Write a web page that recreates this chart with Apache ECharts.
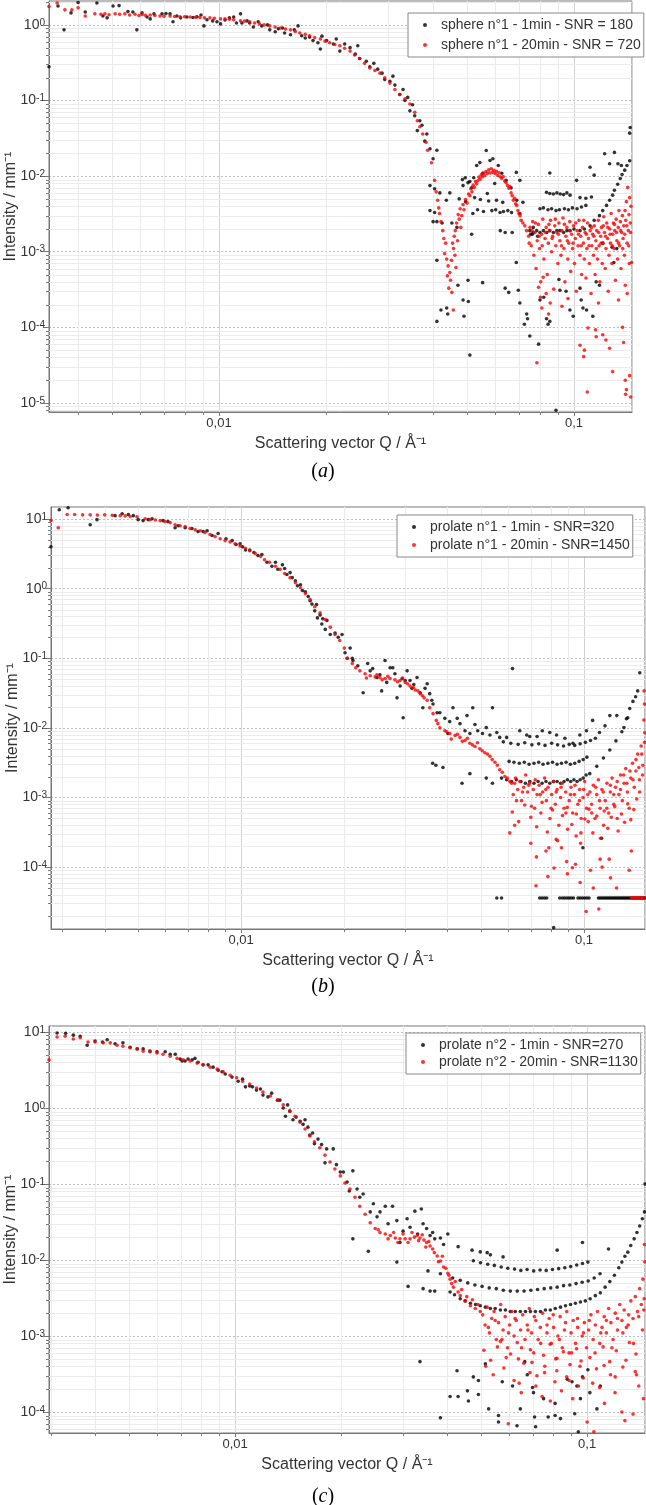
<!DOCTYPE html>
<html><head><meta charset="utf-8">
<script src="https://cdn.jsdelivr.net/npm/echarts@6.0.0/dist/echarts.min.js"></script>
<style>html,body{margin:0;padding:0;background:#fff}#c{width:646px;height:1505px}</style>
</head><body><div id="c"></div>
<script>
const FONT = 'Liberation Sans, Arial, sans-serif';

// axis ranges
const xRangeA = [0.00332, 0.1457], yRangeA = [7.6e-6, 2.07];
const xRangeB = [0.00279, 0.1507], yRangeB = [1.29e-5, 14.9];
const xRangeC = [0.00296, 0.146], yRangeC = [5.3e-5, 12.0];

// minor grid values
const xMinorA = [0.004,0.005,0.006,0.007,0.008,0.009,0.02,0.03,0.04,0.05,0.06,0.07,0.08,0.09];
const xMinorB = [0.003,0.004,0.005,0.006,0.007,0.008,0.009,0.02,0.03,0.04,0.05,0.06,0.07,0.08,0.09];
const xMinorC = [0.003,0.004,0.005,0.006,0.007,0.008,0.009,0.02,0.03,0.04,0.05,0.06,0.07,0.08,0.09];
const yMinorA = [8e-6,9e-6,2e-5,3e-5,4e-5,5e-5,6e-5,7e-5,8e-5,9e-5,2e-4,3e-4,4e-4,5e-4,6e-4,7e-4,8e-4,9e-4,2e-3,3e-3,4e-3,5e-3,6e-3,7e-3,8e-3,9e-3,0.02,0.03,0.04,0.05,0.06,0.07,0.08,0.09,0.2,0.3,0.4,0.5,0.6,0.7,0.8,0.9,2];
const yMinorB = [2e-5,3e-5,4e-5,5e-5,6e-5,7e-5,8e-5,9e-5,2e-4,3e-4,4e-4,5e-4,6e-4,7e-4,8e-4,9e-4,2e-3,3e-3,4e-3,5e-3,6e-3,7e-3,8e-3,9e-3,0.02,0.03,0.04,0.05,0.06,0.07,0.08,0.09,0.2,0.3,0.4,0.5,0.6,0.7,0.8,0.9,2,3,4,5,6,7,8,9];
const yMinorC = [6e-5,7e-5,8e-5,9e-5,2e-4,3e-4,4e-4,5e-4,6e-4,7e-4,8e-4,9e-4,2e-3,3e-3,4e-3,5e-3,6e-3,7e-3,8e-3,9e-3,0.02,0.03,0.04,0.05,0.06,0.07,0.08,0.09,0.2,0.3,0.4,0.5,0.6,0.7,0.8,0.9,2,3,4,5,6,7,8,9];

// (a) sphere n°1
const sphere1_1min = [
[0.00332,0.28],[0.00352,1.78],[0.00366,0.86],[0.00383,1.44],[0.00401,1.98],[0.0042,1.48],[0.00453,1.95],[0.00471,1.31],[0.00484,1.24],[0.00503,1.78],[0.00523,1.8],[0.00554,1.5],[0.00572,1.48],[0.00587,0.86],[0.00607,1.44],[0.00627,1.27],[0.0064,1.2],[0.00656,1.4],[0.00691,1.4],[0.00709,1.41],[0.00728,1.4],[0.00742,1.1],[0.00761,1.31],[0.0078,1.24],[0.00812,1.27],[0.00845,1.25],[0.00867,1.28],[0.0089,1.35],[0.00907,0.97],[0.00925,1.17],[0.0096,1.13],[0.00987,1.1],[0.0101,1.03],[0.0104,1.16],[0.0107,1.24],[0.011,1.27],[0.0112,1.06],[0.0115,1.4],[0.0116,1.06],[0.012,1.13],[0.0122,1.06],[0.0125,0.94],[0.0129,1.1],[0.0132,0.97],[0.0137,1.0],[0.0139,0.86],[0.0144,0.81],[0.0147,0.89],[0.0151,0.91],[0.0153,0.78],[0.0159,0.74],[0.0163,0.86],[0.0167,0.97],[0.0171,0.72],[0.0175,0.67],[0.018,0.69],[0.0184,0.62],[0.019,0.58],[0.0193,0.48],[0.0195,0.71],[0.0201,0.62],[0.021,0.56],[0.0214,0.65],[0.0219,0.45],[0.0226,0.56],[0.0234,0.5],[0.0242,0.41],[0.0246,0.53],[0.0249,0.36],[0.026,0.33],[0.0266,0.28],[0.0273,0.31],[0.028,0.26],[0.0288,0.23],[0.0293,0.19],[0.0303,0.18],[0.0309,0.21],[0.0313,0.16],[0.0323,0.12],[0.033,0.14],[0.0334,0.1],[0.034,0.11],[0.0345,0.073],[0.0351,0.088],[0.0356,0.063],[0.0362,0.04],[0.0368,0.054],[0.0373,0.047],[0.038,0.029],[0.0385,0.036],[0.0393,0.023],[0.0401,0.017],[0.0411,0.022],
[0.0393,0.0075],[0.0405,0.0068],[0.0419,0.006],[0.0405,0.0033],[0.0411,0.0025],[0.0425,0.0024],[0.0393,0.0035],[0.0401,0.0025],[0.0437,0.0048],[0.0447,0.006],[0.0453,0.0024],[0.0468,0.0021],[0.0487,0.0075],[0.0494,0.0095],[0.0503,0.0082],[0.0515,0.007],[0.0519,0.0032],[0.0532,0.0138],[0.0543,0.0151],[0.0553,0.0109],[0.0566,0.0218],[0.057,0.0059],[0.058,0.0161],[0.0587,0.0035],[0.0591,0.017],[0.0598,0.008],[0.0605,0.0048],[0.0612,0.0138],[0.0619,0.0033],[0.0626,0.0109],[0.063,0.0045],[0.0644,0.0088],[0.0651,0.0035],[0.0665,0.007],[0.0688,0.0112],[0.069,0.0048],[0.0704,0.0088],[0.0704,0.0032],[0.0718,0.0045],[0.064,0.0018],[0.0763,0.0017],
[0.0485,0.009],[0.0509,0.0085],[0.0522,0.0095],[0.0475,0.005],[0.0495,0.0046],[0.0525,0.0052],[0.0545,0.0049],[0.0575,0.0047],[0.0535,0.0036],[0.0556,0.0034],[0.0602,0.0036],[0.0633,0.0034],[0.0667,0.0033],[0.062,0.0019],[0.067,0.0018],[0.0768,0.0021],[0.0755,0.0017],[0.079,0.0016],
[0.0837,0.0061],[0.0855,0.0059],[0.0875,0.0058],[0.0895,0.006],[0.0915,0.0058],[0.0935,0.0057],[0.0955,0.006],[0.0975,0.0056],[0.104,0.0052],[0.108,0.0051],[0.112,0.0053],[0.0855,0.011],[0.1017,0.0088],[0.111,0.0131],[0.114,0.0103],[0.122,0.0198],[0.126,0.0146],[0.13,0.0206],[0.133,0.0146],[0.136,0.0138],[0.144,0.044],[0.1435,0.037],
[0.0802,0.0037],[0.082,0.0038],[0.0845,0.0036],[0.0865,0.0037],[0.089,0.0035],[0.091,0.0036],[0.094,0.0037],[0.0965,0.0036],[0.099,0.0038],[0.102,0.0037],[0.105,0.0039],[0.108,0.0041],
[0.0751,0.0019],[0.0768,0.0018],[0.0785,0.0019],[0.0802,0.0018],[0.082,0.0019],[0.0838,0.0018],[0.0855,0.0019],[0.0875,0.0018],[0.0895,0.0019],[0.0913,0.0019],[0.0935,0.0018],[0.0955,0.0019],[0.0974,0.0019],[0.1,0.002],[0.104,0.0019],[0.107,0.002],[0.111,0.0022],[0.114,0.0026],[0.118,0.003],[0.1205,0.0035],[0.1235,0.0041],[0.126,0.0048],[0.1285,0.0056],[0.13,0.0065],[0.1328,0.0078],[0.135,0.0093],[0.1366,0.0105],[0.139,0.012],[0.141,0.0138],[0.1435,0.016],
[0.0411,7.7e-4],[0.0411,1.2e-4],[0.0422,1.7e-4],[0.0438,1.8e-4],[0.0441,1.5e-4],[0.0471,3.6e-4],[0.0487,2.3e-4],[0.049,1.4e-4],[0.0503,4.2e-4],[0.0504,2.2e-4],[0.0509,4.3e-5],[0.0515,1.7e-3],[0.0553,3.9e-4],[0.064,3.3e-4],[0.0655,2.9e-4],[0.0688,7.2e-4],[0.0697,3.1e-4],[0.0704,2.1e-4],[0.0725,1.1e-4],[0.0736,1.5e-4],[0.074,1.3e-4],[0.0751,7.7e-5],[0.0795,6e-5],[0.0802,2.3e-4],[0.0822,2.5e-4],[0.0837,1.3e-4],[0.0845,1.1e-4],[0.0855,1.2e-4],[0.0907,4.3e-4],[0.0913,3.1e-4],[0.095,3e-4],[0.0974,1.7e-4],[0.0995,1.4e-4],[0.104,3.3e-4],[0.1048,2.3e-4],[0.106,1.8e-4],[0.1085,1.7e-4],[0.113,1.4e-4],[0.1155,4e-4],[0.118,3.6e-4],[0.1205,1.3e-3],[0.128,1.15e-3],[0.1295,7.2e-4],[0.132,1.1e-3],[0.089,8e-6]
];
const sphere1_20min = [
[0.00332,1.75],[0.0035,1.95],[0.00368,1.58],[0.00385,1.58],[0.00401,1.68],[0.0042,1.31],[0.00447,1.4],[0.00465,1.38],[0.00477,1.4],[0.0049,1.36],[0.0051,1.4],[0.00525,1.38],[0.00543,1.4],[0.0056,1.35],[0.0058,1.38],[0.00595,1.33],[0.00607,1.37],[0.0062,1.34],[0.0064,1.35],[0.0066,1.33],[0.00682,1.31],[0.007,1.3],[0.00728,1.31],[0.0075,1.29],[0.00777,1.28],[0.008,1.28],[0.0083,1.27],[0.0086,1.26],[0.00884,1.25],[0.0091,1.24],[0.00943,1.24],[0.0097,1.22],[0.0101,1.2],[0.0104,1.2],[0.0107,1.19],[0.011,1.17],[0.0115,1.13],[0.0118,1.12],[0.0122,1.1],[0.0126,1.06],[0.013,1.03],[0.0134,1.0],[0.0139,0.97],[0.0144,0.94],[0.0149,0.91],[0.0154,0.88],[0.0159,0.86],[0.0164,0.82],[0.0169,0.78],[0.0175,0.75],[0.018,0.72],[0.0186,0.68],[0.0193,0.65],[0.0199,0.61],[0.0205,0.58],[0.0212,0.55],[0.0219,0.53],[0.0226,0.49],[0.0234,0.45],[0.0241,0.4],[0.0249,0.36],[0.0257,0.31],[0.0266,0.27],[0.0275,0.25],[0.0284,0.23],[0.0293,0.2],[0.0303,0.17],[0.0313,0.14],[0.0323,0.12],[0.0334,0.105],[0.0345,0.09],[0.0356,0.07],[0.0362,0.054],[0.0368,0.045],[0.0375,0.036],[0.0383,0.028],[0.0387,0.022],[0.0397,0.015],
[0.0405,0.0088],[0.0409,0.0062],[0.0413,0.0048],[0.0416,0.0038],[0.0418,0.0032],[0.0422,0.0025],[0.0427,0.0019],[0.043,0.0015],[0.0435,0.0013],[0.0432,0.00095],[0.0438,0.0008],[0.0442,0.00065],[0.044,0.00048],[0.0447,0.00053],[0.0444,0.00033],[0.0449,0.00042],[0.0453,0.00029],[0.0452,0.00077],[0.0455,0.0013],[0.0457,0.00017],[0.0458,0.0011],[0.046,0.0016],[0.0462,0.0009],[0.0465,0.00062],[0.0463,0.0019],[0.0467,0.0024],[0.047,0.0014],[0.0472,0.0031],[0.0475,0.0027],[0.0478,0.0037],[0.048,0.0021],
[0.0483,0.003],[0.0487,0.0042],[0.049,0.0036],[0.0495,0.0049],[0.05,0.0044],[0.0505,0.0058],[0.0509,0.0055],[0.0512,0.0068],[0.0516,0.0062],[0.052,0.0076],[0.0524,0.0071],[0.0528,0.0085],[0.0532,0.0079],[0.0536,0.0087],[0.054,0.0097],[0.0544,0.0091],[0.0548,0.0104],[0.0552,0.0098],[0.0556,0.011],[0.056,0.0101],[0.0565,0.0115],[0.057,0.0108],[0.0575,0.0121],[0.058,0.011],[0.0585,0.0125],[0.059,0.0112],[0.0595,0.0119],[0.06,0.0108],[0.0605,0.0116],[0.061,0.0102],[0.0615,0.0111],[0.062,0.0098],[0.0626,0.0093],[0.0632,0.0099],[0.0638,0.0086],[0.0644,0.0082],[0.065,0.0075],[0.0656,0.0069],[0.066,0.0073],[0.0665,0.006],[0.067,0.0055],[0.0675,0.0048],[0.068,0.0051],[0.0685,0.0043],[0.069,0.0041],[0.0695,0.0035],[0.07,0.0032],[0.0705,0.003],[0.071,0.0026],[0.0718,0.0024],[0.0727,0.0022],[0.0735,0.0019],
[0.0745,0.0016],[0.0752,0.0021],[0.0758,0.0012],[0.0765,0.0025],[0.0771,0.0009],[0.0776,0.0018],[0.0782,0.0006],[0.0788,0.0014],[0.0794,0.0023],[0.08,0.0011],[0.0806,0.0004],[0.0811,0.0017],[0.0817,0.0027],[0.0823,0.0008],[0.0829,0.0015],[0.0835,0.0021],[0.0841,0.0005],[0.0847,0.0013],[0.0853,0.0019],[0.0859,0.0026],[0.0865,0.001],[0.0871,0.0016],[0.0877,0.00032],[0.0883,0.0022],[0.0889,0.0012],[0.0895,0.0018],[0.0901,0.0007],[0.0907,0.0024],[0.0913,0.0014],[0.0919,0.0009],[0.0925,0.0019],[0.0931,0.0028],[0.0937,0.0011],[0.0943,0.0004],[0.0949,0.0016],[0.0955,0.0021],[0.0961,0.0008],[0.0967,0.0013],[0.0973,0.0025],[0.0979,0.00055],[0.0985,0.0017],[0.0991,0.0011],[0.0997,0.0022],[0.1003,0.0007],[0.1009,0.0015],[0.1015,0.0003],[0.1021,0.0019],[0.1027,0.0012],[0.1033,0.0026],[0.1039,0.0009],[0.1045,0.0016],[0.1051,0.0005],[0.1057,0.0021],[0.1063,0.0013],[0.1069,0.0008],[0.1075,0.0018],[0.1081,0.00045],[0.1087,0.0011],[0.1093,0.0024],[0.1099,0.0015],[0.1105,0.0007],[0.1111,0.0019],[0.1117,0.00028],[0.1123,0.0012],[0.1129,0.0017],[0.1135,0.0009],[0.1141,0.0022],[0.1147,0.0005],[0.1153,0.0014],[0.1159,0.0019],[0.1165,0.0008],[0.1171,0.0026],[0.1177,0.0012],[0.1183,0.0004],[0.1189,0.0016],[0.1195,0.0021],[0.1201,0.0007],[0.1207,0.0013],[0.1213,0.0029],[0.1219,0.0018],[0.1225,0.0006],[0.1231,0.0011],[0.1237,0.0024],[0.1243,0.0015],[0.1249,0.0003],[0.1255,0.0009],[0.1261,0.002],[0.1267,0.0013],[0.1273,0.0032],[0.1279,0.0007],[0.1285,0.0017],[0.1291,0.0024],[0.1297,0.0011],[0.1303,0.0019],[0.1309,0.00042],[0.1315,0.0027],[0.1321,0.0014],[0.1327,0.0008],[0.1333,0.0021],[0.1339,0.0035],[0.1345,0.0012],[0.1351,0.0025],[0.1357,0.0006],[0.1363,0.0018],[0.1369,0.003],[0.1375,0.0015],[0.1381,0.0022],[0.1387,0.0009],[0.1393,0.0035],[0.1399,0.0026],[0.1405,0.0046],[0.1411,0.0013],[0.1417,0.0071],[0.1423,0.0019],[0.1429,0.0031],[0.1435,0.0052],[0.1441,0.0024],[0.1447,0.004],[0.1453,0.00072],
[0.0748,0.0013],[0.0762,0.0019],[0.0779,0.0024],[0.0797,0.0016],[0.0814,0.0012],[0.0832,0.0018],[0.085,0.0023],[0.0868,0.0015],[0.0886,0.0027],[0.0904,0.0017],[0.0922,0.0012],[0.094,0.0023],[0.0958,0.0014],[0.0976,0.0019],[0.0994,0.0013],[0.1012,0.0024],[0.103,0.0017],[0.1048,0.0012],[0.1066,0.0026],[0.1084,0.0017],[0.1102,0.0012],[0.112,0.0021],[0.1138,0.0016],[0.1156,0.0011],[0.1174,0.0018],[0.1192,0.0013],[0.121,0.0022],[0.1228,0.0016],[0.1246,0.0021],[0.1264,0.0017],[0.1282,0.0012],[0.13,0.0023],[0.1318,0.0018],[0.1336,0.0013],[0.1354,0.0019],[0.1372,0.0011],[0.139,0.0017],[0.1408,0.0022],[0.1426,0.0012],[0.1444,0.0018],
[0.0795,0.00034],[0.0805,0.00025],[0.0812,0.00018],[0.0819,0.00046],[0.0835,0.00028],[0.0848,0.00015],[0.0857,0.00021],[0.0786,3.4e-5],[0.104,5.8e-5],[0.107,5e-5],[0.1065,4.1e-5],[0.109,1.4e-5],[0.1095,9.8e-5],[0.115,9.3e-5],[0.1155,7.5e-5],[0.1205,8e-5],[0.123,6.8e-5],[0.126,5.3e-5],[0.1285,2.6e-5],[0.137,1e-4],[0.138,6.3e-5],[0.1395,2e-5],[0.1405,1.5e-5],[0.1398,1.3e-5],[0.1435,2.3e-5],[0.1445,1.2e-5],[0.1412,2.8e-4],[0.1395,3.6e-4],[0.1335,2.3e-4],[0.1172,2.1e-4],[0.0962,2.4e-4],[0.0925,1.9e-4],[0.1432,7e-4]
];

// (b) prolate n°1
const prolate1_1min = [
[0.00279,4.0],[0.00295,13.6],[0.00313,14.5],[0.00363,8.3],[0.0038,9.8],[0.00429,11.2],[0.0045,11.9],[0.00469,11.6],[0.00485,11.2],[0.00501,9.8],[0.00518,9.5],[0.00536,9.8],[0.0055,10.1],[0.00592,9.5],[0.00612,9.2],[0.00642,7.5],[0.00655,8.0],[0.00687,7.5],[0.00719,7.3],[0.00749,6.6],[0.00775,6.6],[0.00796,6.8],[0.00823,5.8],[0.00857,6.2],[0.00904,5.2],[0.00942,4.9],[0.00967,4.3],[0.00993,4.4],[0.0101,4.0],[0.0103,3.6],[0.0106,3.6],[0.0109,3.3],[0.0112,3.0],[0.0115,3.1],[0.0119,2.4],[0.0123,2.1],[0.0126,2.4],[0.0128,1.9],[0.0132,2.2],[0.0134,1.95],[0.0136,1.6],[0.0139,1.7],[0.0141,1.44],[0.0144,1.3],[0.0146,1.1],[0.0149,1.14],[0.0151,0.94],[0.0154,0.9],[0.0157,0.77],[0.0159,0.67],[0.0161,0.6],[0.0164,0.48],[0.0166,0.59],[0.0167,0.38],[0.017,0.42],[0.0172,0.31],[0.0173,0.37],[0.0176,0.26],[0.0178,0.35],[0.0182,0.22],[0.0188,0.23],[0.0192,0.2],[0.0197,0.22],[0.0201,0.12],[0.0204,0.1],[0.0208,0.14],[0.0211,0.1],[0.0212,0.093],[0.0219,0.078],[0.0227,0.032],[0.0234,0.084],[0.0238,0.066],[0.0242,0.071],[0.0249,0.053],[0.0254,0.058],[0.0257,0.034],[0.0263,0.093],[0.0266,0.045],[0.0272,0.073],[0.0277,0.073],[0.0281,0.06],[0.0285,0.027],[0.0291,0.04],[0.0295,0.051],[0.0297,0.014],[0.0301,0.048],[0.0305,0.066],[0.0311,0.048],[0.0315,0.037],[0.0319,0.042],[0.0326,0.053],[0.0333,0.032],[0.0339,0.0195],[0.0344,0.037],[0.0349,0.043],[0.0355,0.031],[0.036,0.025],[0.0363,0.022],[0.0373,0.0165],[0.038,0.0165],[0.0393,0.0137],[0.0401,0.0083],[0.0406,0.0123],[0.0415,0.0195],[0.0427,0.0137],[0.0435,0.0115],[0.045,0.0091],[0.0456,0.015],[0.0465,0.0083],[0.0474,0.0195],[0.0481,0.0112],[0.049,0.0091],[0.0506,0.0083],[0.0519,0.0101],[0.0532,0.0079],[0.0541,0.0195],[0.0557,0.0086],[0.0568,0.0073],[0.0595,0.0073],[0.0619,0.071],[0.065,0.0091],[0.0681,0.0079],[0.0695,0.0075],[0.073,0.0075],[0.0756,0.0091],[0.0795,0.0086],[0.0832,0.0079],[0.088,0.0071],[0.0929,0.006],[0.0973,0.0079],[0.1017,0.0091],[0.106,0.0128],[0.111,0.0086],[0.1152,0.0107],[0.119,0.015],[0.1247,0.015],[0.1308,0.0101],[0.1342,0.014],[0.1455,0.062],
[0.0575,0.0019],[0.0595,0.0018],[0.0615,0.0017],[0.0635,0.0018],[0.0655,0.0017],[0.0675,0.0016],[0.0695,0.0017],[0.0715,0.0016],[0.0735,0.0017],[0.0755,0.0016],[0.0775,0.0017],[0.0795,0.0016],[0.0815,0.0017],[0.0835,0.0017],[0.0855,0.0016],[0.0875,0.0017],[0.0895,0.0018],[0.0915,0.0017],[0.0935,0.0018],[0.0955,0.0017],[0.0975,0.0018],[0.0995,0.0019],[0.1015,0.0021],[0.104,0.0022],[0.109,0.0028],[0.114,0.0037],[0.119,0.0048],[0.124,0.0065],[0.129,0.0088],[0.133,0.0135],[0.136,0.019],[0.139,0.024],[0.1415,0.028],[0.1435,0.034],
[0.0605,0.0033],[0.0625,0.0032],[0.0648,0.0031],[0.067,0.0032],[0.0692,0.003],[0.0715,0.0031],[0.0738,0.0032],[0.076,0.003],[0.0785,0.0031],[0.081,0.0032],[0.0835,0.003],[0.086,0.0031],[0.0887,0.0032],[0.0913,0.003],[0.094,0.0031],[0.0968,0.0033],[0.0995,0.0035],[0.102,0.0038],
[0.0582,0.0063],[0.0612,0.006],[0.0643,0.0058],[0.0672,0.0061],[0.0705,0.0057],[0.0738,0.0059],[0.077,0.0056],[0.0805,0.006],[0.0838,0.0057],[0.0872,0.0055],[0.0906,0.0058],[0.094,0.0056],[0.0975,0.0059],[0.101,0.0062],[0.1045,0.0066],[0.108,0.0071],
[0.0362,0.0031],[0.037,0.0029],[0.0388,0.0027],[0.0441,0.0016],[0.0465,0.0022],[0.0519,0.0019],[0.0541,0.0016],[0.0993,1.9e-4],[0.1126,2.6e-4],[0.0816,1.35e-5],
[0.0557,3.6e-5],[0.0575,3.6e-5],[0.0743,3.6e-5],[0.0755,3.6e-5],[0.0767,3.6e-5],[0.0779,3.6e-5],[0.085,3.6e-5],[0.0865,3.6e-5],[0.0878,3.6e-5],[0.0892,3.6e-5],[0.0905,3.6e-5],[0.0918,3.6e-5],[0.0932,3.6e-5],[0.0961,3.6e-5],[0.0975,3.6e-5],[0.099,3.6e-5],[0.1005,3.6e-5],[0.102,3.6e-5],[0.1035,3.6e-5],[0.1102,3.6e-5],[0.1115,3.6e-5],[0.1128,3.6e-5],[0.1141,3.6e-5],[0.1154,3.6e-5],[0.1167,3.6e-5],[0.118,3.6e-5],[0.1193,3.6e-5],[0.1206,3.6e-5],[0.1219,3.6e-5],[0.1232,3.6e-5],[0.1245,3.6e-5],[0.1258,3.6e-5],[0.1271,3.6e-5],[0.1284,3.6e-5],[0.1297,3.6e-5],[0.131,3.6e-5],[0.1323,3.6e-5],[0.1336,3.6e-5],[0.1349,3.6e-5],[0.1362,3.6e-5],[0.1375,3.6e-5],[0.1388,3.6e-5],[0.1401,3.6e-5],[0.1414,3.6e-5],[0.1427,3.6e-5],[0.144,3.6e-5],[0.1453,3.6e-5],[0.1466,3.6e-5],[0.1479,3.6e-5],[0.1492,3.6e-5],[0.1505,3.6e-5]
];
const prolate1_20min = [
[0.00279,9.5],[0.00293,7.5],[0.00311,11.6],[0.00327,11.6],[0.00345,11.5],[0.00363,11.5],[0.00381,11.4],[0.004,11.5],[0.00421,11.3],[0.00444,11.2],[0.00459,11.1],[0.00475,10.9],[0.00497,10.8],[0.00525,10.1],[0.00543,9.8],[0.00562,9.7],[0.00581,9.5],[0.006,9.2],[0.00621,8.9],[0.00642,8.3],[0.00664,8.0],[0.00687,7.8],[0.0071,7.3],[0.00735,7.0],[0.0076,6.8],[0.00785,6.4],[0.00812,6.0],[0.0084,5.6],[0.00869,5.2],[0.00898,4.9],[0.00929,4.7],[0.0096,4.4],[0.00993,4.1],[0.0103,3.8],[0.0106,3.5],[0.011,3.2],[0.0114,2.9],[0.0117,2.6],[0.0121,2.4],[0.0126,2.1],[0.013,1.9],[0.0134,1.65],[0.0139,1.44],[0.0144,1.22],[0.0149,1.03],[0.0154,0.85],[0.0159,0.7],[0.0164,0.55],[0.017,0.45],[0.0176,0.36],[0.0182,0.28],[0.0188,0.22],[0.0194,0.18],[0.02,0.14],[0.0204,0.1],[0.0211,0.084],[0.0216,0.073],[0.0222,0.066],[0.023,0.06],[0.0238,0.056],[0.0246,0.054],[0.0254,0.053],[0.0263,0.051],[0.0272,0.051],[0.0281,0.049],[0.0291,0.048],[0.0301,0.045],[0.0311,0.04],[0.0322,0.035],[0.0333,0.031],[0.0342,0.027],[0.0349,0.025],[0.0355,0.0195],[0.0363,0.016],[0.0371,0.0128],[0.038,0.01],[0.0393,0.0091],[0.0406,0.0083],[0.0421,0.0078],[0.0435,0.0073],[0.045,0.0066],[0.0465,0.006],[0.0481,0.0054],[0.0497,0.005],[0.0514,0.0044],[0.0532,0.0039],[0.055,0.0032],[0.0568,0.0025],[0.0588,0.002],[0.0608,0.0017],[0.0628,0.0016],
[0.0232,0.052],[0.0249,0.058],[0.0258,0.049],[0.0268,0.055],[0.0286,0.046],[0.0296,0.052],[0.0306,0.043],[0.0318,0.038],[0.0328,0.034],[0.0338,0.029],[0.0375,0.0115],[0.0398,0.0088],[0.041,0.0069],[0.0428,0.0081],[0.0442,0.0064],[0.0457,0.0071],[0.0473,0.0057],[0.0489,0.0061],[0.0505,0.0047],[0.0523,0.0042],[0.054,0.0035],[0.0559,0.0029],[0.0578,0.0023],[0.0598,0.0019],
[0.0615,0.0016],[0.0622,0.0011],[0.0632,0.0019],[0.0641,0.0013],[0.065,0.0017],[0.0658,0.0009],[0.0667,0.0014],[0.0676,0.0021],[0.0685,0.0012],[0.0694,0.0016],[0.0703,0.00075],[0.0712,0.0013],[0.0721,0.0018],[0.073,0.0011],[0.074,0.0015],[0.0749,0.0006],[0.0758,0.0012],[0.0768,0.0019],[0.0777,0.0009],[0.0786,0.0014],[0.0796,0.0005],[0.0805,0.0011],[0.0815,0.0017],[0.0825,0.0008],[0.0835,0.0013],[0.0845,0.0004],[0.0855,0.001],[0.0865,0.0016],[0.0875,0.0007],[0.0885,0.0012],[0.0896,0.00035],[0.0906,0.0009],[0.0917,0.0014],[0.0927,0.0006],[0.0938,0.0011],[0.0949,0.00028],[0.096,0.0008],[0.0971,0.0013],[0.0982,0.0005],[0.0994,0.001],[0.1005,0.0017],[0.1017,0.0007],[0.1029,0.00045],[0.1041,0.0012],[0.1053,0.0008],[0.1065,0.0015],[0.1077,0.0005],[0.109,0.0011],[0.1102,0.0018],[0.1115,0.0007],[0.1128,0.0013],[0.1141,0.0004],[0.1154,0.0009],[0.1167,0.0016],[0.1181,0.0006],[0.1194,0.0012],[0.1208,0.0019],[0.1222,0.0008],[0.1236,0.0014],[0.125,0.0005],[0.1265,0.0011],[0.1279,0.0021],[0.1294,0.0009],[0.1309,0.0016],[0.1324,0.0026],[0.1339,0.0012],[0.1355,0.0007],[0.137,0.0019],[0.1386,0.0031],[0.1402,0.0014],[0.1418,0.0024],[0.1434,0.0042],[0.1451,0.0018],[0.1468,0.0055],[0.1485,0.0029],[0.1495,0.013],[0.1502,0.022],[0.1498,0.034],[0.1505,0.0085],
[0.0636,0.0009],[0.0662,0.0012],[0.069,0.0015],[0.0718,0.0007],[0.0746,0.0011],[0.0774,0.0013],[0.0802,0.0007],[0.083,0.0012],[0.0858,0.0014],[0.0886,0.0006],[0.0914,0.0011],[0.0942,0.0015],[0.097,0.0009],[0.0998,0.0013],[0.1026,0.0011],[0.1054,0.0006],[0.1082,0.0014],[0.111,0.0009],[0.1138,0.0012],[0.1166,0.0007],[0.1194,0.0015],[0.1222,0.0011],[0.125,0.0017],[0.1278,0.0013],[0.1306,0.0021],[0.1334,0.0016],[0.1362,0.0024],[0.139,0.0018],[0.1418,0.0035],[0.1446,0.0027],[0.1474,0.0042],[0.1503,0.0062],
[0.0618,0.00062],[0.0645,0.00045],[0.0672,0.00078],[0.07,0.00052],[0.0728,0.00038],[0.0755,0.00085],[0.0782,0.00032],[0.081,0.00066],[0.0838,0.00024],[0.0866,0.00055],[0.0894,0.00072],[0.0922,0.00041],[0.095,0.00058],[0.0978,0.00022],[0.1006,0.00049],[0.1034,0.00068],[0.1062,0.00031],[0.109,0.00054],[0.1118,0.00026],[0.1146,0.00064],[0.1174,0.00036],[0.1202,0.00052],[0.123,0.00074],[0.1258,0.00033],[0.1286,0.00058],[0.1314,0.00044],[0.1342,0.00081],[0.137,0.00048],[0.1398,0.00067],[0.1426,0.00095],[0.1454,0.0012],[0.1482,0.0021],
[0.0608,3.1e-4],[0.0628,4e-4],[0.07,2.2e-4],[0.0725,5.4e-5],[0.0727,1.4e-4],[0.0775,1.7e-4],[0.0785,7.3e-5],[0.079,1.9e-4],[0.0818,9.7e-5],[0.083,2.5e-4],[0.086,1.9e-4],[0.0895,8e-5],[0.0925,9.8e-5],[0.0945,1.1e-4],[0.098,3.1e-4],[0.1015,2.3e-5],[0.1045,9e-5],[0.1065,5e-5],[0.1105,2.5e-5],[0.1115,1.3e-4],[0.113,1e-4],[0.1185,1.3e-4],[0.1195,7e-5],[0.1245,5e-5],[0.1355,9e-5],[0.1375,1.7e-4],[0.089,1.2e-4],[0.0975,6e-5],
[0.1375,3.6e-5],[0.139,3.6e-5],[0.1405,3.6e-5],[0.142,3.6e-5],[0.1435,3.6e-5],[0.145,3.6e-5],[0.1465,3.6e-5],[0.148,3.6e-5],[0.1495,3.6e-5]
];

// (c) prolate n°2
const prolate2_1min = [
[0.00312,9.7],[0.0033,9.6],[0.00347,9.1],[0.00363,8.8],[0.0038,6.7],[0.004,7.6],[0.0042,7.4],[0.00433,7.9],[0.00456,7.0],[0.0048,7.2],[0.00503,6.3],[0.00527,6.0],[0.00548,6.0],[0.00573,5.6],[0.006,5.5],[0.00633,5.5],[0.00654,5.1],[0.00676,5.1],[0.00698,4.4],[0.00707,4.15],[0.00721,4.15],[0.00735,4.4],[0.00755,4.3],[0.00769,4.5],[0.00785,4.0],[0.00811,3.7],[0.00838,3.7],[0.00866,3.45],[0.00895,3.15],[0.00918,3.0],[0.00937,2.8],[0.0098,2.55],[0.0102,2.25],[0.0105,2.4],[0.0107,1.9],[0.011,1.95],[0.0112,1.9],[0.0115,1.72],[0.0118,1.78],[0.012,1.48],[0.0124,1.4],[0.0127,1.57],[0.0132,1.27],[0.0134,1.27],[0.0137,1.0],[0.0139,0.78],[0.0141,1.1],[0.0143,0.91],[0.0146,0.7],[0.0149,0.76],[0.0153,0.67],[0.0156,0.61],[0.0158,0.7],[0.0161,0.56],[0.0163,0.44],[0.0166,0.47],[0.0168,0.34],[0.0172,0.39],[0.0176,0.33],[0.018,0.19],[0.0182,0.29],[0.019,0.29],[0.0194,0.18],[0.0199,0.144],[0.0203,0.144],[0.0208,0.106],[0.0211,0.081],[0.0216,0.149],[0.0216,0.019],[0.0222,0.086],[0.0226,0.067],[0.0231,0.074],[0.0239,0.013],[0.0242,0.043],[0.0247,0.055],[0.0253,0.037],[0.0258,0.043],[0.0267,0.051],[0.0272,0.03],[0.028,0.051],[0.0288,0.033],[0.0294,0.017],[0.03,0.024],[0.0308,0.035],[0.0314,0.027],[0.0324,0.044],[0.033,0.022],[0.0338,0.047],[0.0342,0.03],[0.035,0.026],[0.0358,0.021],[0.0364,0.023],[0.0369,0.019],[0.0383,0.0195],[0.0391,0.016],[0.0402,0.022],[0.043,0.015],[0.0471,0.0135],[0.0497,0.0128],[0.0531,0.0117],[0.0577,0.011],[0.0822,0.0135],[0.097,0.017],[0.115,0.014],[0.146,0.1],
[0.0408,0.0038],[0.042,0.0035],[0.0436,0.0031],[0.045,0.0029],[0.0466,0.0027],[0.0482,0.0026],[0.0497,0.0025],[0.0514,0.0024],[0.0531,0.0023],[0.0548,0.0023],[0.0567,0.0022],[0.0586,0.0022],[0.0605,0.0021],[0.0625,0.0021],[0.0646,0.0021],[0.0668,0.0021],[0.069,0.0021],[0.0713,0.0021],[0.0737,0.0021],[0.0761,0.0022],[0.0786,0.0022],[0.0812,0.0023],[0.084,0.0024],[0.0868,0.0025],[0.0897,0.0026],[0.0926,0.0027],[0.0957,0.0028],[0.0988,0.0029],[0.102,0.0031],[0.1055,0.0034],[0.109,0.0037],[0.1125,0.0044],[0.116,0.0052],[0.1195,0.0063],[0.123,0.0079],[0.1255,0.0094],[0.128,0.0112],[0.1305,0.0127],[0.133,0.0155],[0.136,0.019],[0.1385,0.023],[0.141,0.028],[0.1435,0.035],[0.1455,0.043],
[0.0415,0.0058],[0.0436,0.0054],[0.0458,0.005],[0.048,0.0047],[0.0503,0.0045],[0.0527,0.0043],[0.0552,0.0042],[0.0578,0.004],[0.0605,0.0039],[0.0633,0.0039],[0.0662,0.0039],[0.0692,0.004],[0.0723,0.0041],[0.0755,0.0042],[0.0788,0.0043],[0.0822,0.0044],[0.0857,0.0046],[0.0893,0.0047],[0.093,0.0049],[0.0968,0.0051],[0.1007,0.0053],[0.1047,0.0058],[0.1088,0.0066],
[0.0475,0.0098],[0.0498,0.0092],[0.0522,0.0088],[0.0545,0.0085],[0.057,0.0081],[0.0595,0.0078],[0.0622,0.0076],[0.0648,0.0073],[0.0675,0.0075],[0.0705,0.0072],[0.0735,0.0074],[0.0765,0.0073],[0.0797,0.0075],[0.083,0.0077],[0.0864,0.0079],[0.0898,0.0082],[0.0934,0.0086],[0.097,0.009],[0.1005,0.0094],
[0.0335,4.6e-4],[0.0383,8.4e-5],[0.0408,1.6e-4],[0.043,1.6e-4],[0.0427,3.5e-4],[0.0457,1.9e-4],[0.046,1.4e-4],[0.0475,2.9e-4],[0.0491,2.6e-4],[0.0491,1.7e-4],[0.0514,4.3e-4],[0.0525,1.1e-4],[0.056,9e-5],[0.056,7.4e-5],[0.0574,2.5e-4],[0.0614,2.2e-4],[0.0632,6.6e-5],[0.0646,1.1e-4],[0.0676,3.1e-4],[0.0704,1.8e-4],[0.0709,8.6e-5],[0.0714,6.4e-5],[0.0752,1.5e-4],[0.0775,8.6e-5],[0.0811,1.3e-4],[0.0811,9e-5],[0.084,8.2e-5],[0.0878,2.7e-4],[0.0906,2.5e-4],[0.0935,2.2e-4],[0.0922,9.5e-5],[0.0957,1.5e-4],[0.097,2.9e-4],[0.1005,3.6e-4],[0.1018,1.8e-4],[0.1066,1.1e-4],[0.109,2.2e-4],[0.0944,5.5e-5],[0.0665,4.6e-4],[0.07,2.1e-4],
[0.0342,0.0042],[0.031,0.0045],[0.0358,0.0039],[0.0369,0.0039],[0.0353,0.0072],[0.0383,0.0066],[0.0288,0.0094],[0.052,0.0125]
];
const prolate2_20min = [
[0.00296,4.3],[0.00312,8.6],[0.00329,8.8],[0.00347,8.1],[0.00363,8.4],[0.00382,7.4],[0.004,7.4],[0.00422,7.2],[0.00442,7.2],[0.00462,6.7],[0.0048,6.5],[0.00503,6.2],[0.00527,6.0],[0.00548,5.6],[0.00573,5.5],[0.006,5.3],[0.00624,5.1],[0.00654,4.8],[0.00684,4.5],[0.00712,4.3],[0.00745,4.15],[0.0078,3.9],[0.00811,3.7],[0.00849,3.45],[0.00889,3.25],[0.00925,3.0],[0.00968,2.7],[0.0101,2.5],[0.0105,2.25],[0.011,2.07],[0.0115,1.83],[0.012,1.62],[0.0126,1.44],[0.0132,1.27],[0.0137,1.1],[0.0143,0.91],[0.0148,0.78],[0.0153,0.65],[0.0158,0.53],[0.0163,0.43],[0.0168,0.36],[0.0174,0.3],[0.018,0.24],[0.0186,0.195],[0.0192,0.158],[0.0199,0.128],[0.0205,0.103],[0.0212,0.086],[0.0219,0.067],[0.0226,0.051],[0.0234,0.04],[0.0242,0.031],[0.025,0.026],[0.0258,0.023],[0.0267,0.022],[0.0276,0.021],[0.0285,0.0195],[0.0294,0.019],[0.0304,0.019],[0.0314,0.019],[0.0323,0.02],[0.0329,0.021],[0.0335,0.0195],[0.0344,0.0183],[0.035,0.017],[0.0358,0.0153],[0.0364,0.014],[0.0375,0.0113],[0.0383,0.0097],[0.0391,0.0081],[0.0402,0.0067],[0.0408,0.0056],[0.0417,0.0044],[0.043,0.0038],[0.0436,0.0034],[0.0451,0.0029],[0.0466,0.0025],[0.0481,0.0023],[0.0497,0.0021],
[0.0255,0.025],[0.0272,0.019],[0.0282,0.023],[0.029,0.017],[0.03,0.022],[0.031,0.017],[0.0318,0.023],[0.0332,0.018],[0.034,0.0215],[0.0348,0.0148],[0.0355,0.0175],[0.0368,0.0125],[0.0378,0.0095],[0.0388,0.0112],[0.0397,0.0078],[0.0405,0.0063],[0.0412,0.0049],[0.0422,0.0052],[0.044,0.0041],[0.0455,0.0033],[0.0472,0.003],[0.049,0.0026],
[0.0505,0.0019],[0.0513,0.0014],[0.052,0.0024],[0.0528,0.0011],[0.0536,0.0017],[0.0544,0.0021],[0.0552,0.0009],[0.056,0.0015],[0.0568,0.0026],[0.0577,0.0012],[0.0585,0.0018],[0.0594,0.0007],[0.0602,0.0014],[0.0611,0.0021],[0.062,0.001],[0.0629,0.0016],[0.0638,0.0005],[0.0647,0.0012],[0.0656,0.0019],[0.0666,0.0009],[0.0676,0.0014],[0.0685,0.0023],[0.0695,0.0011],[0.0705,0.0006],[0.0715,0.0016],[0.0726,0.0009],[0.0736,0.0013],[0.0747,0.002],[0.0758,0.0004],[0.0769,0.0011],[0.078,0.0017],[0.0791,0.0008],[0.0803,0.0013],[0.0814,0.0005],[0.0826,0.001],[0.0838,0.0018],[0.085,0.0007],[0.0862,0.0012],[0.0875,0.0021],[0.0888,0.0006],[0.09,0.0011],[0.0913,0.0016],[0.0927,0.0008],[0.094,0.0013],[0.0954,0.0004],[0.0968,0.001],[0.0982,0.0015],[0.0996,0.0007],[0.101,0.0012],[0.1025,0.0019],[0.104,0.0009],[0.1055,0.0014],[0.107,0.0021],[0.1086,0.0008],[0.1102,0.0013],[0.1118,0.0018],[0.1134,0.0011],[0.1151,0.0023],[0.1168,0.0015],[0.1185,0.0009],[0.1202,0.002],[0.122,0.0012],[0.1238,0.0026],[0.1256,0.0016],[0.1274,0.0022],[0.1293,0.0013],[0.1312,0.0019],[0.1331,0.0029],[0.135,0.0017],[0.137,0.0033],[0.139,0.0021],[0.141,0.0042],[0.1425,0.0026],[0.144,0.0056],[0.1452,0.0031],[0.1458,0.0095],[0.1455,0.016],
[0.0524,0.0013],[0.0548,0.0016],[0.0573,0.0009],[0.0598,0.0011],[0.0624,0.0017],[0.0651,0.0007],[0.0679,0.0012],[0.0708,0.0018],[0.0738,0.0008],[0.0769,0.0014],[0.0801,0.0019],[0.0834,0.0009],[0.0868,0.0015],[0.0903,0.0006],[0.0939,0.0017],[0.0976,0.0011],[0.1014,0.0016],[0.1053,0.0006],[0.1093,0.0011],[0.1134,0.0016],[0.1176,0.0007],[0.1219,0.0017],[0.1263,0.0011],[0.1308,0.0014],[0.1354,0.0008],[0.1401,0.0018],[0.1449,0.0022],
[0.0509,0.00065],[0.0532,0.00048],[0.0556,0.00072],[0.058,0.00038],[0.0606,0.00058],[0.0633,0.00082],[0.0661,0.00044],[0.069,0.00066],[0.072,0.0003],[0.0752,0.00056],[0.0785,0.00078],[0.082,0.00035],[0.0856,0.00062],[0.0894,0.00042],[0.0933,0.00068],[0.0975,0.00028],[0.1018,0.00052],[0.1063,0.00037],[0.111,0.00072],[0.1159,0.00046],[0.121,0.00064],[0.1263,0.00039],[0.1318,0.00082],[0.1376,0.00058],[0.1436,0.0012],
[0.0541,0.00031],[0.0589,0.00052],[0.0641,0.00024],[0.0697,0.00045],[0.0757,0.00033],[0.0821,0.00051],[0.0889,0.00026],[0.0961,0.00047],[0.1037,0.00024],[0.1117,0.00041],[0.1201,0.00029],[0.1289,0.00048],[0.1381,0.00031],
[0.0515,4e-4],[0.0597,7e-5],[0.0567,8.5e-4],[0.062,2.6e-4],[0.065,1.8e-4],[0.0688,3.3e-4],[0.0715,2.2e-4],[0.0745,1.6e-4],[0.0786,1.4e-4],[0.081,2.5e-4],[0.0845,1.9e-4],[0.0875,2.9e-4],[0.091,1.5e-4],[0.0945,2.2e-4],[0.1,7.4e-5],[0.1045,5.5e-5],[0.1085,2.1e-4],[0.112,1.3e-4],[0.1165,3.1e-4],[0.12,1.8e-4],[0.1255,1.0e-4],[0.128,7.7e-5],[0.135,9.4e-5],[0.137,3.4e-4],[0.1402,2.2e-4],[0.1445,1.5e-4]
];

const names = {
  a1: 'sphere n°1 - 1min - SNR = 180', a2: 'sphere n°1 - 20min - SNR = 720',
  b1: 'prolate n°1 - 1min - SNR=320', b2: 'prolate n°1 - 20min - SNR=1450',
  c1: 'prolate n°2 - 1min - SNR=270', c2: 'prolate n°2 - 20min - SNR=1130'
};

const panels = [
  {grid:{left:49, top:1, width:583, height:411}, xr:xRangeA, yr:yRangeA, xm:xMinorA, ym:yMinorA, s1:sphere1_1min, s2:sphere1_20min, n1:names.a1, n2:names.a2, lg:{left:408, top:13, gap:6}, cap:'a', capTop:457},
  {grid:{left:51, top:507, width:594, height:422}, xr:xRangeB, yr:yRangeB, xm:xMinorB, ym:yMinorB, s1:prolate1_1min, s2:prolate1_20min, n1:names.b1, n2:names.b2, lg:{left:397, top:515, gap:4}, cap:'b', capTop:972},
  {grid:{left:49, top:1026, width:596, height:407}, xr:xRangeC, yr:yRangeC, xm:xMinorC, ym:yMinorC, s1:prolate2_1min, s2:prolate2_20min, n1:names.c1, n2:names.c2, lg:{left:406, top:1033, gap:3}, cap:'c', capTop:1482}
];

function fmtX(v){ const e = Math.log10(v); if (Math.abs(e+2) < 1e-3) return '0,01'; if (Math.abs(e+1) < 1e-3) return '0,1'; return ''; }
function fmtY(v){ const e = Math.log10(v); const r = Math.round(e); if (Math.abs(e-r) > 1e-3) return ''; return '{b|10}{s|' + r + '}'; }

function vMinor(params, api){
  const cs = params.coordSys;
  const p = api.coord([api.value(0), api.value(1)]);
  const x = Math.round(p[0]) + 0.5;
  const yb = cs.y + cs.height;
  return {type:'group', children:[
    {type:'line', shape:{x1:x, y1:cs.y, x2:x, y2:yb}, style:{stroke:'#ebebeb', lineWidth:1}},
    {type:'line', shape:{x1:x, y1:yb, x2:x, y2:yb+3}, style:{stroke:'#777', lineWidth:1}}
  ]};
}
function hMinor(params, api){
  const cs = params.coordSys;
  const p = api.coord([api.value(0), api.value(1)]);
  const y = Math.round(p[1]) + 0.5;
  return {type:'group', children:[
    {type:'line', shape:{x1:cs.x, y1:y, x2:cs.x+cs.width, y2:y}, style:{stroke:'#ebebeb', lineWidth:1}},
    {type:'line', shape:{x1:cs.x-3, y1:y, x2:cs.x, y2:y}, style:{stroke:'#777', lineWidth:1}}
  ]};
}

const option = {animation:false, backgroundColor:'#fff', grid:[], xAxis:[], yAxis:[], series:[], legend:[], title:[]};

panels.forEach((p, i) => {
  option.grid.push(Object.assign({show:true, borderColor:'#777', borderWidth:1, backgroundColor:'#fff', containLabel:false, outerBoundsMode:'none'}, p.grid));
  option.xAxis.push({
    type:'log', logBase:10, gridIndex:i, min:p.xr[0], max:p.xr[1],
    name:'Scattering vector Q / Å⁻¹', nameLocation:'middle', nameGap:24, nameMoveOverlap:false,
    nameTextStyle:{fontFamily:FONT, fontSize:16, color:'#333'},
    axisLine:{show:true, lineStyle:{color:'#777'}},
    axisTick:{show:true, inside:false, length:4, lineStyle:{color:'#777'}},
    axisLabel:{fontFamily:FONT, fontSize:13, color:'#333', margin:5, formatter:fmtX, showMinLabel:false, showMaxLabel:false},
    splitLine:{show:true, lineStyle:{color:'#d2d2d2', type:'solid', width:1}}
  });
  option.yAxis.push({
    type:'log', logBase:10, gridIndex:i, min:p.yr[0], max:p.yr[1],
    name:'Intensity / mm⁻¹', nameLocation:'middle', nameGap:30, nameRotate:90, nameMoveOverlap:false,
    nameTextStyle:{fontFamily:FONT, fontSize:16, color:'#333'},
    axisLine:{show:true, lineStyle:{color:'#777'}},
    axisTick:{show:true, inside:false, length:5, lineStyle:{color:'#777'}},
    axisLabel:{margin:4, formatter:fmtY, showMinLabel:false, showMaxLabel:false,
      rich:{b:{fontFamily:FONT, fontSize:14, color:'#333'}, s:{fontFamily:FONT, fontSize:10, color:'#333', verticalAlign:'top'}}},
    splitLine:{show:true, lineStyle:{color:'#bdbdbd', type:[2,2], width:1}}
  });
  option.series.push({type:'custom', xAxisIndex:i, yAxisIndex:i, silent:true, z:1, clip:false, renderItem:vMinor, data:p.xm.map(v => [v, p.yr[0]])});
  option.series.push({type:'custom', xAxisIndex:i, yAxisIndex:i, silent:true, z:1, clip:false, renderItem:hMinor, data:p.ym.map(v => [p.xr[0], v])});
  option.series.push({type:'scatter', name:p.n1, xAxisIndex:i, yAxisIndex:i, z:3, symbol:'circle', symbolSize:3.6, itemStyle:{color:'#000'}, data:p.s1, silent:true});
  option.series.push({type:'scatter', name:p.n2, xAxisIndex:i, yAxisIndex:i, z:4, symbol:'circle', symbolSize:3.6, itemStyle:{color:'#ff0000'}, data:p.s2, silent:true});
  option.legend.push({
    orient:'vertical', left:p.lg.left, top:p.lg.top, data:[p.n1, p.n2], selectedMode:false,
    backgroundColor:'#fff', borderColor:'#888', borderWidth:1, borderRadius:0, padding:[5,3,5,15],
    itemGap:p.lg.gap, itemWidth:4, itemHeight:4, icon:'circle',
    textStyle:{fontFamily:FONT, fontSize:14, color:'#333', padding:[0,0,0,9]}
  });
  option.title.push({
    text:'({i|' + p.cap + '})', left:'center', top:p.capTop,
    textStyle:{fontFamily:'Liberation Serif, serif', fontSize:20, fontWeight:'normal', color:'#000',
      rich:{i:{fontFamily:'Liberation Serif, serif', fontStyle:'italic', fontSize:20, color:'#000'}}}
  });
});

const chart = echarts.init(document.getElementById('c'), null, {renderer:'canvas'});
chart.setOption(option);
</script></body></html>
